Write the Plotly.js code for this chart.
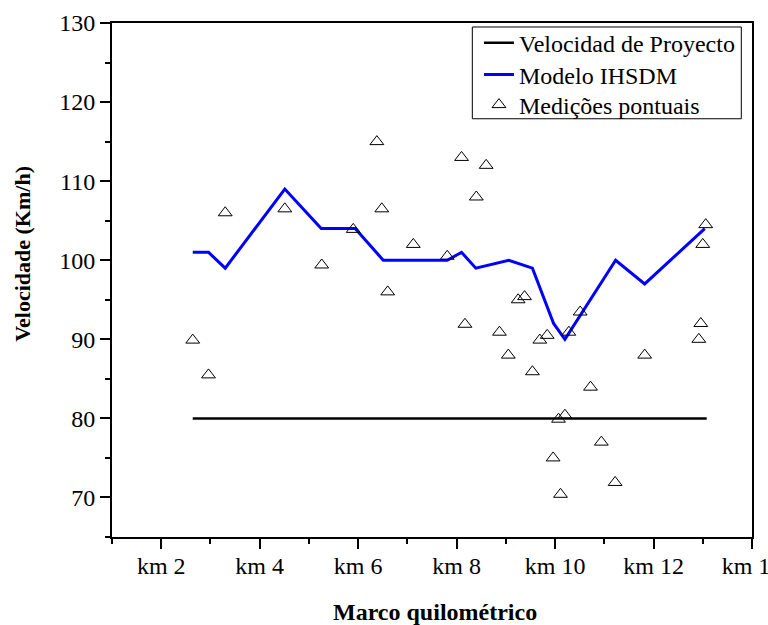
<!DOCTYPE html>
<html>
<head>
<meta charset="utf-8">
<script src="https://cdn.plot.ly/plotly-3.0.1.min.js"></script>
<style>html,body{margin:0;padding:0;background:#fff;}#chart{width:768px;height:625px;}</style>
</head>
<body>
<div id="chart"></div>
<script>
// Design speed (Velocidad de Proyecto)
var designX = [2.64, 13.08];
var designY = [80, 80];

// IHSDM model
var modelX = [2.64, 2.96, 3.30, 4.51, 5.25, 5.94, 6.51, 7.81, 8.10, 8.39, 9.06, 9.54, 9.97, 10.20, 11.23, 11.82, 13.04];
var modelY = [101, 101, 99, 109, 104, 104, 100, 100, 101, 99, 100, 99, 92, 90, 100, 97, 104];

// Point measurements (Medições pontuais)
var measX = [2.64, 2.96, 3.30, 4.51, 5.26, 5.90, 6.38, 6.48, 6.60, 7.12, 7.81, 8.10, 8.17, 8.40, 8.60, 8.87, 9.05, 9.25, 9.38, 9.54, 9.69, 9.84, 9.96, 10.07, 10.11, 10.20, 10.28, 10.51, 10.72, 10.94, 11.22, 11.82, 12.92, 12.96, 13.00, 13.06];
var measY = [89.9, 85.5, 106.0, 106.5, 99.4, 103.9, 115.0, 106.5, 96.0, 102.0, 100.5, 113.0, 91.9, 108.0, 112.0, 90.9, 88.0, 95.0, 95.4, 85.9, 89.9, 90.5, 75.0, 79.9, 70.4, 80.4, 90.9, 93.45, 83.95, 77.0, 71.9, 88.0, 90.0, 92.0, 102.0, 104.5];

// Tick labels
var xTickVals = [2, 4, 6, 8, 10, 12, 14];
var xTickText = ['km 2', 'km 4', 'km 6', 'km 8', 'km 10', 'km 12', 'km 14'];
var yTickVals = [70, 80, 90, 100, 110, 120, 130];

var FONT = 'Liberation Serif, Times New Roman, serif';

var traces = [
  {x: designX, y: designY, mode: 'lines', name: 'Velocidad de Proyecto', legend: 'legend',
   line: {color: '#000000', width: 2.5}},
  {x: modelX, y: modelY, mode: 'lines', name: 'Modelo IHSDM', legend: 'legend2',
   line: {color: '#0000ff', width: 3}},
  {x: measX, y: measY, mode: 'markers', name: 'Medições pontuais', legend: 'legend3',
   marker: {symbol: 'triangle-up-open', size: 12, color: '#000000', line: {width: 1, color: '#000000'}}}
];

function leg(yc) {
  return {
    x: 0.5734, xanchor: 'left', y: yc, yanchor: 'middle',
    bgcolor: 'rgba(0,0,0,0)', borderwidth: 0,
    font: {family: FONT, size: 24, color: '#000000'}
  };
}

var layout = {
  width: 768, height: 625,
  margin: {l: 112, r: 16, t: 23, b: 88, pad: 0},
  paper_bgcolor: '#ffffff', plot_bgcolor: '#ffffff',
  font: {family: FONT, size: 24, color: '#000000'},
  showlegend: true,
  legend: leg(0.961),
  legend2: leg(0.899),
  legend3: leg(0.8405),
  shapes: [
    {type: 'rect', xref: 'paper', yref: 'paper', x0: 0.5630, x1: 0.9833, y0: 0.8137, y1: 0.9922,
     line: {color: '#000000', width: 1}, fillcolor: 'rgba(0,0,0,0)', layer: 'above'}
  ],
  xaxis: {
    range: [1, 14], showgrid: false, zeroline: false,
    showline: true, linecolor: '#000000', linewidth: 2, mirror: true,
    ticks: 'outside', ticklen: 10, tickwidth: 2, tickcolor: '#000000',
    tickvals: xTickVals, ticktext: xTickText, ticklabeloverflow: 'allow', ticklabelstandoff: -4,
    tickfont: {family: FONT, size: 24, color: '#000000'},
    minor: {dtick: 1, tick0: 1, ticks: 'outside', ticklen: 5, tickwidth: 2, tickcolor: '#000000', showgrid: false}
  },
  yaxis: {
    range: [65, 130], showgrid: false, zeroline: false,
    showline: true, linecolor: '#000000', linewidth: 2, mirror: true,
    ticks: 'outside', ticklen: 10, tickwidth: 2, tickcolor: '#000000',
    tickvals: yTickVals, ticktext: yTickVals.map(String),
    tickfont: {family: FONT, size: 24, color: '#000000'},
    minor: {dtick: 5, tick0: 65, ticks: 'outside', ticklen: 5, tickwidth: 2, tickcolor: '#000000', showgrid: false}
  },
  annotations: [
    {text: '<b>Marco quilométrico</b>', xref: 'paper', yref: 'paper',
     x: 0.505, y: -0.146, xanchor: 'center', yanchor: 'middle', showarrow: false,
     font: {family: FONT, size: 24, color: '#000000'}},
    {text: '<b>Velocidade (Km/h)</b>', xref: 'paper', yref: 'paper',
     x: -0.139, y: 0.551, xanchor: 'center', yanchor: 'middle', showarrow: false, textangle: -90,
     font: {family: FONT, size: 22, color: '#000000'}}
  ]
};

Plotly.newPlot('chart', traces, layout, {displayModeBar: false, staticPlot: true});
</script>
</body>
</html>
